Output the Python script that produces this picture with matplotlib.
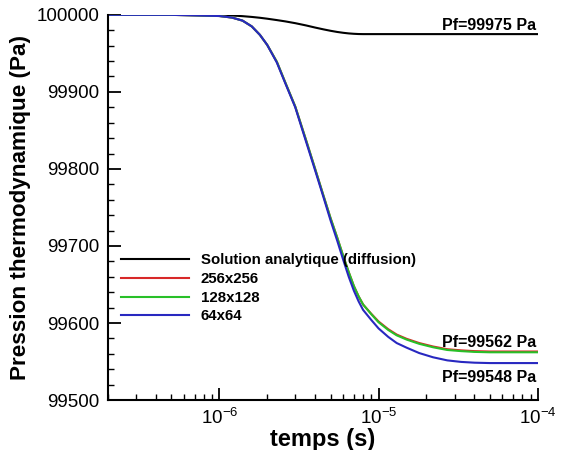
import matplotlib.pyplot as plt
from matplotlib.ticker import MultipleLocator, LogLocator

plt.rcParams['font.family'] = ['Liberation Sans', 'DejaVu Sans']

# temps (s)
t = [2e-7, 5e-7, 1e-6, 1.2e-6, 1.4e-6, 1.6e-6, 1.8e-6, 2e-6, 2.3e-6, 2.6e-6, 3e-6,
     3.5e-6, 4e-6, 4.5e-6, 5e-6, 5.5e-6, 6e-6, 6.5e-6, 7e-6, 7.5e-6, 8e-6, 9e-6,
     1e-5, 1.15e-5, 1.3e-5, 1.5e-5, 1.8e-5, 2.2e-5, 2.7e-5, 3.3e-5, 4e-5, 5e-5,
     7e-5, 1e-4]

# pression (Pa)
p_analytique = [100000, 100000, 99999.7, 99999.2, 99998.3, 99997.3, 99996.2, 99995,
                99993.2, 99991.5, 99989.2, 99986.3, 99983.5, 99981.2, 99979.3, 99977.8,
                99976.7, 99975.9, 99975.4, 99975.1, 99975, 99975, 99975, 99975, 99975,
                99975, 99975, 99975, 99975, 99975, 99975, 99975, 99975, 99975]
p_256 = [100000, 100000, 99998.5, 99996.5, 99992.5, 99985, 99974, 99961, 99939, 99912,
         99881, 99838, 99800, 99766, 99736, 99711, 99687, 99666, 99648, 99634.5, 99624,
         99612, 99602, 99592, 99585, 99579.5, 99574, 99569.5, 99566, 99564.5, 99563.5,
         99563, 99563, 99563]
p_128 = [100000, 100000, 99998.5, 99996.5, 99992.5, 99985, 99974, 99961, 99939, 99912,
         99881, 99838, 99800, 99766, 99736, 99711, 99687, 99666, 99648, 99634.5, 99624,
         99611.5, 99601, 99591, 99584, 99578.5, 99573, 99568.5, 99565, 99563.5, 99562.5,
         99562, 99562, 99562]
p_64 = [100000, 100000, 99998.5, 99996.5, 99992.5, 99985, 99974, 99961, 99938, 99911,
        99880, 99836, 99798, 99764, 99733, 99707, 99682, 99660, 99642, 99628, 99617,
        99604, 99593, 99582, 99574, 99568, 99561, 99555.5, 99551.5, 99549.5, 99548.5,
        99548, 99548, 99548]

fig = plt.figure(figsize=(5.62, 4.5), dpi=100)
ax = fig.add_axes([0.192, 0.111, 0.765, 0.856])

ax.plot(t, p_analytique, color='black', lw=1.5, label='Solution analytique (diffusion)')
ax.plot(t, p_256, color='#d82828', lw=1.5, label='256x256')
ax.plot(t, p_128, color='#28c028', lw=1.5, label='128x128')
ax.plot(t, p_64, color='#2828c0', lw=1.5, label='64x64')

ax.set_xscale('log')
ax.set_xlim(2e-7, 1e-4)
ax.set_ylim(99500, 100000)
ax.yaxis.set_major_locator(MultipleLocator(100))
ax.yaxis.set_minor_locator(MultipleLocator(20))
ax.xaxis.set_minor_locator(LogLocator(base=10, subs=range(2, 10)))
ax.ticklabel_format(axis='y', useOffset=False, style='plain')

for s in ['top', 'right']:
    ax.spines[s].set_visible(False)
for s in ['left', 'bottom']:
    ax.spines[s].set_linewidth(1.5)

ax.tick_params(which='major', direction='in', length=9, width=1.3, labelsize=13.5, pad=6)
ax.tick_params(which='minor', direction='in', length=4.5, width=1)

ax.set_xlabel('temps (s)', fontsize=17, fontweight='bold', labelpad=0)
ax.set_ylabel('Pression thermodynamique (Pa)', fontsize=16.2, fontweight='bold', labelpad=4)

ax.text(9.8e-5, 99977, 'Pf=99975 Pa', ha='right', va='bottom', fontsize=11.5, fontweight='bold')
ax.text(9.8e-5, 99565, 'Pf=99562 Pa', ha='right', va='bottom', fontsize=11.5, fontweight='bold')
ax.text(9.8e-5, 99539, 'Pf=99548 Pa', ha='right', va='top', fontsize=11.5, fontweight='bold')

leg = ax.legend(loc='upper left', bbox_to_anchor=(0.0, 0.4156), frameon=False,
                prop={'size': 10.8, 'weight': 'bold'}, handlelength=4.5,
                handletextpad=0.8, labelspacing=0.31)

fig.savefig('out.png', dpi=100)
